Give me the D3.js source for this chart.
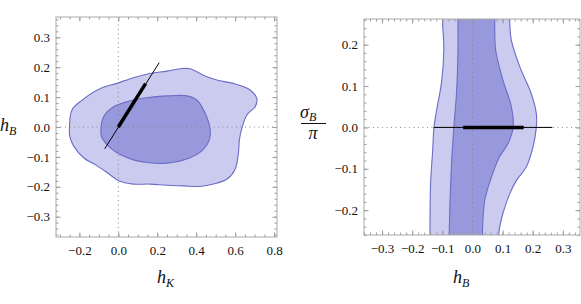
<!DOCTYPE html>
<html>
<head>
<meta charset="utf-8">
<script src="https://cdn.jsdelivr.net/npm/d3@7"></script>
<style>
  body { margin: 0; background: #fff; }
  svg { display: block; }
</style>
</head>
<body>
<svg id="chart" width="581" height="304"></svg>
<script>
// left panel: (hK, hB) contours
const leftOuter = [
  [-0.251, -0.003], [-0.238, 0.057], [-0.186, 0.09], [-0.092, 0.129], [-0.007, 0.146],
  [0.078, 0.165], [0.163, 0.179], [0.25, 0.187], [0.318, 0.195], [0.369, 0.195],
  [0.437, 0.173], [0.506, 0.157], [0.591, 0.146], [0.677, 0.124], [0.711, 0.096],
  [0.703, 0.068], [0.661, 0.041], [0.635, -0.003], [0.622, -0.042], [0.617, -0.086],
  [0.6, -0.141], [0.557, -0.175], [0.489, -0.191], [0.421, -0.199], [0.335, -0.197],
  [0.25, -0.195], [0.163, -0.191], [0.078, -0.191], [0.002, -0.18], [-0.058, -0.152],
  [-0.109, -0.13], [-0.178, -0.103], [-0.229, -0.064], [-0.249, -0.031]
];
const leftInner = [
  [-0.089, -0.003], [-0.075, 0.035], [-0.024, 0.068], [0.078, 0.09], [0.163, 0.099],
  [0.25, 0.104], [0.352, 0.104], [0.404, 0.09], [0.446, 0.046], [0.472, -0.009],
  [0.468, -0.042], [0.437, -0.075], [0.369, -0.103], [0.25, -0.121], [0.147, -0.119],
  [0.078, -0.11], [-0.007, -0.086], [-0.058, -0.059], [-0.087, -0.031]
];
const leftThin = [[-0.07, -0.073], [0.21, 0.215]];
const leftThick = [[0.0, 0.0], [0.14, 0.145]];

// right panel: band edges as (hB, sigmaB/pi), top to bottom
const rightOuterL = [
  [-0.099, 0.27], [-0.099, 0.252], [-0.095, 0.187], [-0.103, 0.107], [-0.119, 0.042],
  [-0.128, -0.002], [-0.132, -0.055], [-0.139, -0.136], [-0.141, -0.253], [-0.141, -0.27]
];
const rightOuterR = [
  [0.124, 0.27], [0.124, 0.252], [0.129, 0.211], [0.157, 0.147], [0.195, 0.082],
  [0.212, 0.034], [0.212, 0.0], [0.201, -0.047], [0.179, -0.095], [0.146, -0.128],
  [0.124, -0.16], [0.101, -0.208], [0.088, -0.253], [0.088, -0.27]
];
const rightInnerL = [
  [-0.048, 0.27], [-0.048, 0.252], [-0.048, 0.187], [-0.053, 0.082], [-0.062, -0.002],
  [-0.07, -0.095], [-0.077, -0.253], [-0.077, -0.27]
];
const rightInnerR = [
  [0.074, 0.27], [0.074, 0.252], [0.077, 0.187], [0.101, 0.115], [0.129, 0.05],
  [0.135, 0.0], [0.118, -0.039], [0.09, -0.071], [0.063, -0.12], [0.041, -0.176],
  [0.033, -0.253], [0.033, -0.27]
];
const rightThin = [[-0.128, 0], [0.265, 0]];
const rightThick = [[-0.031, 0], [0.17, 0]];

const leftXTicks = [-0.2, 0, 0.2, 0.4, 0.6, 0.8];
const leftYTicks = [-0.3, -0.2, -0.1, 0, 0.1, 0.2, 0.3];
const rightXTicks = [-0.3, -0.2, -0.1, 0, 0.1, 0.2, 0.3];
const rightYTicks = [-0.2, -0.1, 0, 0.1, 0.2];

const lightFill = "#cbcbef";
const darkFill = "#9899dc";
const edge = "#6b6cc6";
const serif = "Liberation Serif";

const svg = d3.select("#chart");
const fmt = d3.format(".1f");

function minorTicks(domain, step) {
  const out = [];
  const start = Math.ceil(domain[0] / step - 1e-9);
  for (let i = start; i * step <= domain[1] + 1e-9; i++) out.push(+(i * step).toFixed(4));
  return out;
}

function frame(g, x, y, xt, yt, xMinorStep, yMinorStep) {
  const [x0, x1] = x.range();
  const [y0, y1] = y.range();
  const xMinor = minorTicks(x.domain(), xMinorStep);
  const yMinor = minorTicks(y.domain(), yMinorStep);

  const axes = [
    [d3.axisBottom(x).tickValues(xMinor).tickSize(-2.5).tickFormat(""), `translate(0,${y0})`],
    [d3.axisTop(x).tickValues(xMinor).tickSize(-2.5).tickFormat(""), `translate(0,${y1})`],
    [d3.axisLeft(y).tickValues(yMinor).tickSize(-2.5).tickFormat(""), `translate(${x0},0)`],
    [d3.axisRight(y).tickValues(yMinor).tickSize(-2.5).tickFormat(""), `translate(${x1},0)`],
    [d3.axisTop(x).tickValues(xt).tickSize(-4.5).tickFormat(""), `translate(0,${y1})`],
    [d3.axisRight(y).tickValues(yt).tickSize(-4.5).tickFormat(""), `translate(${x1},0)`],
    [d3.axisBottom(x).tickValues(xt).tickSize(-4.5).tickPadding(9).tickFormat(fmt), `translate(0,${y0})`],
    [d3.axisLeft(y).tickValues(yt).tickSize(-4.5).tickPadding(6).tickFormat(fmt), `translate(${x0},0)`]
  ];
  axes.forEach(([ax, tr]) => {
    const a = g.append("g").attr("transform", tr).call(ax)
      .attr("font-family", serif).attr("font-size", 13);
    a.select(".domain").remove();
    a.selectAll(".tick line").attr("stroke", "#999");
    a.selectAll(".tick text").attr("fill", "#111");
  });

  g.append("rect")
    .attr("x", x0).attr("y", y1)
    .attr("width", x1 - x0).attr("height", y0 - y1)
    .attr("fill", "none").attr("stroke", "#aaa").attr("stroke-width", 1);
}

function dotted(g, x, y) {
  const [x0, x1] = x.range();
  const [y0, y1] = y.range();
  g.append("line").attr("x1", x(0)).attr("x2", x(0)).attr("y1", y0).attr("y2", y1)
    .attr("stroke", "#888").attr("stroke-dasharray", "1,3.5");
  g.append("line").attr("x1", x0).attr("x2", x1).attr("y1", y(0)).attr("y2", y(0))
    .attr("stroke", "#888").attr("stroke-dasharray", "1,3.5");
}

function title(g, x, y, main, sub, subDy) {
  const t = g.append("text").attr("x", x).attr("y", y)
    .attr("font-family", serif).attr("font-style", "italic")
    .attr("font-size", 18).attr("fill", "#111");
  t.append("tspan").text(main);
  t.append("tspan").attr("dy", subDy || 4).attr("font-size", 12).text(sub);
  return t;
}

// ---------- left panel ----------
{
  const x = d3.scaleLinear().domain([-0.32, 0.815]).range([56, 277]);
  const y = d3.scaleLinear().domain([-0.368, 0.368]).range([237, 17]);
  const g = svg.append("g");

  const closed = d3.line().x(d => x(d[0])).y(d => y(d[1])).curve(d3.curveCatmullRomClosed.alpha(0.5));

  g.append("path").attr("d", closed(leftOuter))
    .attr("fill", lightFill).attr("stroke", edge).attr("stroke-width", 1.1);
  g.append("path").attr("d", closed(leftInner))
    .attr("fill", darkFill).attr("stroke", edge).attr("stroke-width", 1.1);

  dotted(g, x, y);

  const seg = d3.line().x(d => x(d[0])).y(d => y(d[1]));
  g.append("path").attr("d", seg(leftThin)).attr("stroke", "#000").attr("stroke-width", 1).attr("fill", "none");
  g.append("path").attr("d", seg(leftThick)).attr("stroke", "#000").attr("stroke-width", 3.5).attr("fill", "none");

  frame(g, x, y, leftXTicks, leftYTicks, 0.05, 0.02);

  title(g, 157, 283, "h", "K");
  title(g, 0, 131, "h", "B");
}

// ---------- right panel ----------
{
  const x = d3.scaleLinear().domain([-0.36, 0.357]).range([364, 580]);
  const y = d3.scaleLinear().domain([-0.26, 0.262]).range([235, 19]);
  const g = svg.append("g");

  svg.append("defs").append("clipPath").attr("id", "clipR")
    .append("rect").attr("x", 364).attr("y", 19).attr("width", 216).attr("height", 216);

  const open = d3.line().x(d => x(d[0])).y(d => y(d[1])).curve(d3.curveCatmullRom.alpha(0.5));
  const band = (l, r) => open(l) + "L" + open(r.slice().reverse()).slice(1) + "Z";

  const body = g.append("g").attr("clip-path", "url(#clipR)");
  body.append("path").attr("d", band(rightOuterL, rightOuterR)).attr("fill", lightFill);
  body.append("path").attr("d", band(rightInnerL, rightInnerR)).attr("fill", darkFill);
  [rightOuterL, rightOuterR, rightInnerL, rightInnerR].forEach(b => {
    body.append("path").attr("d", open(b)).attr("fill", "none")
      .attr("stroke", edge).attr("stroke-width", 1.1);
  });

  dotted(g, x, y);

  const seg = d3.line().x(d => x(d[0])).y(d => y(d[1]));
  g.append("path").attr("d", seg(rightThin)).attr("stroke", "#000").attr("stroke-width", 1).attr("fill", "none");
  g.append("path").attr("d", seg(rightThick)).attr("stroke", "#000").attr("stroke-width", 3.5).attr("fill", "none");

  frame(g, x, y, rightXTicks, rightYTicks, 0.02, 0.02);

  title(g, 453, 283, "h", "B");

  title(g, 300, 118, "σ", "B", 3);
  g.append("line").attr("x1", 301).attr("x2", 326).attr("y1", 123.5).attr("y2", 123.5)
    .attr("stroke", "#111").attr("stroke-width", 1);
  g.append("text").attr("x", 313).attr("y", 139).attr("text-anchor", "middle")
    .attr("font-family", serif).attr("font-style", "italic").attr("font-size", 18)
    .attr("fill", "#111").text("π");
}
</script>
</body>
</html>
